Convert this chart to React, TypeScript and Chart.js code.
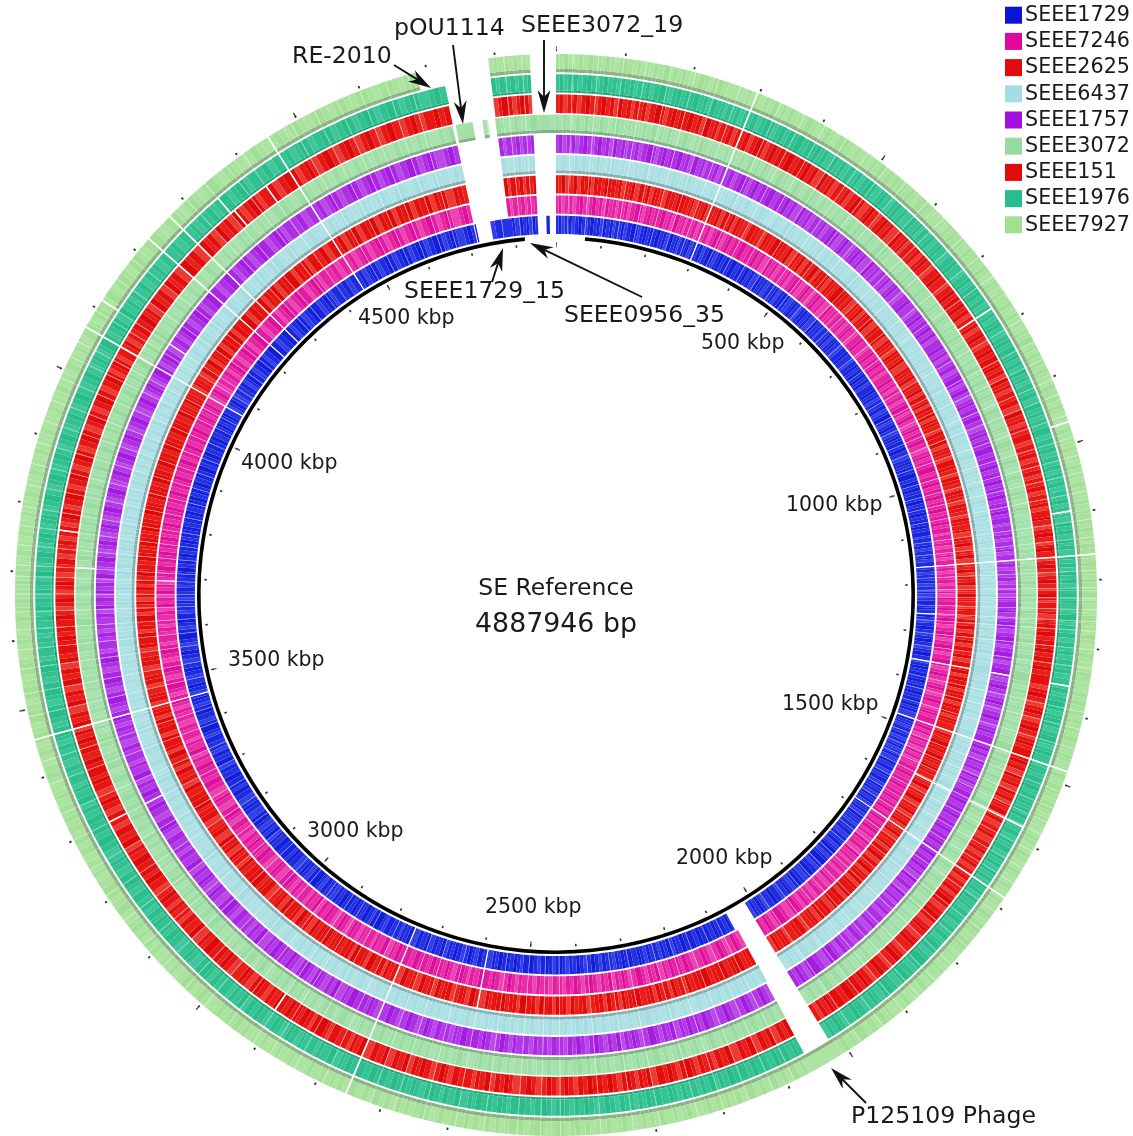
import React, { useEffect, useRef } from "react";
import { Chart, registerables } from "chart.js";

Chart.register(...registerables);

const TOTAL_KBP = 4887.946;

const GENOMES = ["SEEE1729", "SEEE7246", "SEEE2625", "SEEE6437", "SEEE1757", "SEEE3072", "SEEE151", "SEEE1976", "SEEE7927"];
const LEGEND_COLORS = ["#0b14d8", "#e0089a", "#e20a0a", "#a6dce6", "#a30fe0", "#96dca0", "#e20a0a", "#27bd8c", "#a2e090"];

// regions of the reference covered by each genome, kbp
const BLOCKS_SEEE1729 = [[0, 2016], [2062, 4717], [4719, 4722], [4752, 4850], [4868, 4875]];
const BLOCKS_SEEE7246 = [[0, 2016], [2057, 4718], [4790, 4850]];
const BLOCKS_SEEE2625 = [[0, 2016], [2057, 4719], [4790, 4850]];
const BLOCKS_SEEE6437 = [[0, 2016], [2055, 4720], [4790, 4850]];
const BLOCKS_SEEE1757 = [[0, 2016], [2058, 4720], [4790, 4850]];
const BLOCKS_SEEE3072 = [[0, 2016], [2057, 4719], [4724, 4752], [4768, 4777], [4789, 4887.946]];
const BLOCKS_SEEE151 = [[0, 2016], [2058, 4720], [4790, 4850]];
const BLOCKS_SEEE1976 = [[0, 2016], [2058, 4721], [4790, 4850]];
const BLOCKS_SEEE7927 = [[0, 4684], [4790, 4850]];
const BACKBONE_LENGTHS = [63, 4757, 67.946];

// strong unaligned lines, kbp
const LINES_ALL = [296, 1162, 1480, 1683, 2753, 3454, 4068, 4224, 4268, 4450];
const LINES_SEEE1729 = [1358, 2590, 1260];
const LINES_SEEE7246 = [1358, 2590, 3693];
const LINES_SEEE2625 = [1358, 1580, 2590];
const LINES_SEEE6437 = [1580];
const LINES_SEEE1757 = [1358, 3299, 4113];
const LINES_SEEE3072 = [1580, 3709];
const LINES_SEEE151 = [768, 1580, 3299, 3766, 4345, 4407, 2906];
const LINES_SEEE1976 = [768, 1095, 1358, 1580, 4338];
const LINES_SEEE7927 = [967, 4113];

// faint lines shared by the rings, kbp
const FAINT_LINES = [24, 61, 98, 131, 167, 203, 238, 271, 333, 372, 405, 441, 478, 512, 547, 589, 622, 661, 697, 731, 806, 842, 871, 903, 926, 958, 991, 1018, 1043, 1071, 1112, 1138, 1186, 1211, 1226, 1243, 1260, 1274, 1301, 1328, 1392, 1417, 1446, 1511, 1537, 1559, 1578, 1606, 1634, 1659, 1708, 1741, 1772, 1806, 1839, 1871, 1902, 1938, 1977, 2088, 2121, 2159, 2198, 2236, 2292, 2331, 2378, 2437, 2466, 2500, 2548, 2590, 2637, 2681, 2716, 2791, 2836, 2877, 2906, 2951, 2994, 3032, 3077, 3118, 3163, 3207, 3251, 3299, 3341, 3387, 3421, 3489, 3522, 3558, 3586, 3615, 3641, 3667, 3693, 3709, 3738, 3766, 3794, 3826, 3857, 3889, 3921, 3953, 3987, 4021, 4045, 4096, 4113, 4151, 4187, 4303, 4338, 4378, 4407, 4489, 4527, 4563, 4599, 4638, 4671, 4775, 4812, 4838];

// where the shade of a ring changes, kbp
const SHADE_CUTS = [11, 33, 47, 72, 86, 113, 124, 149, 178, 191, 219, 254, 263, 284, 312, 325, 351, 364, 389, 418, 431, 456, 469, 497, 528, 539, 566, 578, 604, 613, 641, 652, 679, 712, 724, 749, 781, 793, 821, 833, 858, 884, 895, 917, 941, 952, 976, 1004, 1011, 1031, 1057, 1064, 1083, 1103, 1124, 1147, 1153, 1174, 1198, 1219, 1234, 1252, 1268, 1287, 1313, 1341, 1349, 1371, 1384, 1405, 1431, 1457, 1468, 1493, 1503, 1524, 1548, 1569, 1591, 1618, 1646, 1671, 1695, 1722, 1733, 1756, 1787, 1798, 1821, 1853, 1862, 1886, 1917, 1929, 1956, 1989, 2003, 2071, 2103, 2112, 2139, 2177, 2186, 2214, 2227, 2258, 2271, 2306, 2318, 2347, 2362, 2394, 2409, 2424, 2451, 2483, 2491, 2519, 2533, 2566, 2578, 2609, 2622, 2654, 2667, 2698, 2733, 2771, 2782, 2813, 2824, 2857, 2866, 2891, 2922, 2936, 2968, 2981, 3011, 3024, 3053, 3066, 3097, 3106, 3139, 3148, 3184, 3193, 3229, 3238, 3272, 3283, 3318, 3327, 3362, 3374, 3402, 3436, 3443, 3471, 3478, 3506, 3513, 3541, 3573, 3601, 3627, 3654, 3681, 3702, 3723, 3752, 3781, 3809, 3818, 3841, 3873, 3904, 3913, 3938, 3969, 4004, 4013, 4033, 4057, 4082, 4104, 4131, 4143, 4169, 4203, 4213, 4246, 4257, 4286, 4321, 4361, 4392, 4428, 4467, 4476, 4508, 4519, 4546, 4581, 4617, 4627, 4656, 4702, 4761, 4802, 4826, 4845, 4878];
const SHADE_CUTS_FINE = [5, 18, 27, 40, 54, 66, 79, 92, 105, 119, 137, 143, 158, 172, 185, 197, 211, 226, 232, 247, 259, 277, 290, 304, 318, 339, 345, 358, 379, 397, 411, 424, 448, 462, 485, 491, 505, 519, 533, 553, 560, 572, 596, 609, 629, 635, 647, 668, 685, 703, 718, 737, 743, 756, 762, 775, 787, 799, 813, 827, 848, 853, 865, 878, 889, 909, 934, 946, 965, 983, 997, 1024, 1037, 1050, 1077, 1089, 1099, 1118, 1130, 1143, 1168, 1180, 1192, 1204, 1215, 1230, 1248, 1263, 1280, 1294, 1307, 1320, 1335, 1364, 1377, 1399, 1411, 1424, 1438, 1451, 1462, 1487, 1497, 1517, 1530, 1543, 1554, 1563, 1585, 1599, 1612, 1627, 1640, 1652, 1665, 1677, 1689, 1701, 1715, 1727, 1748, 1764, 1779, 1793, 1814, 1827, 1846, 1877, 1894, 1909, 1923, 1945, 1964, 1983, 1996, 2009, 2065, 2079, 2096, 2131, 2147, 2168, 2192, 2207, 2221, 2244, 2251, 2265, 2283, 2299, 2312, 2325, 2339, 2354, 2370, 2386, 2401, 2416, 2431, 2444, 2459, 2476, 2513, 2526, 2541, 2557, 2572, 2599, 2617, 2630, 2645, 2661, 2674, 2689, 2706, 2723, 2742, 2763, 2777, 2801, 2819, 2845, 2850, 2872, 2884, 2898, 2913, 2929, 2945, 2959, 2975, 3003, 3018, 3042, 3060, 3086, 3112, 3127, 3133, 3155, 3172, 3199, 3218, 3244, 3262, 3291, 3309, 3334, 3351, 3368, 3394, 3413, 3429, 3449, 3463, 3497, 3532, 3549, 3566, 3594, 3608, 3634, 3648, 3661, 3674, 3687, 3714, 3731, 3745, 3759, 3774, 3787, 3802, 3834, 3850, 3865, 3881, 3896, 3929, 3945, 3961, 3978, 3996, 4027, 4039, 4051, 4076, 4089, 4122, 4137, 4161, 4178, 4196, 4238, 4279, 4294, 4312, 4329, 4353, 4369, 4385, 4418, 4438, 4459, 4483, 4499, 4537, 4555, 4573, 4590, 4608, 4647, 4664, 4678, 4694, 4711, 4797, 4819, 4831, 4858];

// positions of the scale ticks, kbp
const MINOR_TICKS = [100, 200, 300, 400, 600, 700, 800, 900, 1100, 1200, 1300, 1400, 1600, 1700, 1800, 1900, 2100, 2200, 2300, 2400, 2600, 2700, 2800, 2900, 3100, 3200, 3300, 3400, 3600, 3700, 3800, 3900, 4100, 4200, 4300, 4400, 4600, 4700, 4800];
const MAJOR_TICKS = [0, 500, 1000, 1500, 2000, 2500, 3000, 3500, 4000, 4500];

const SCALE_LABELS = ["500 kbp", "1000 kbp", "1500 kbp", "2000 kbp", "2500 kbp", "3000 kbp", "3500 kbp", "4000 kbp", "4500 kbp"];
const SCALE_LABEL_X = [701, 786, 782, 676, 485, 307, 228, 241, 358];
const SCALE_LABEL_Y = [344, 506, 705, 859, 908, 832, 661, 464, 319];

const CALLOUTS = ["RE-2010", "pOU1114", "SEEE3072_19", "SEEE1729_15", "SEEE0956_35", "P125109 Phage"];
const CALLOUT_X = [292, 394, 521, 404, 564, 851];
const CALLOUT_Y = [57, 29, 26, 292, 316, 1117];
const CALLOUT_SIZE = [23.6, 23.6, 23.7, 23.5, 23.5, 23.6];
const ARROW_FROM = [[394, 65], [453, 45], [544, 40], [492, 282], [642, 297], [866, 1103]];
const ARROW_TO = [[431, 88], [463, 124], [544, 113], [503, 248], [530, 243], [831, 1068]];

type Interval = number[];

function buildRing(blocks: Interval[], strong: number[], tones: string[]) {
  const marks: [number, number, boolean][] = [];
  FAINT_LINES.forEach((k) => marks.push([k, k + 1.1, false]));
  [...LINES_ALL, ...strong].forEach((k) => marks.push([k, k + 2.4, true]));
  const edges = new Set<number>([0, TOTAL_KBP]);
  blocks.forEach(([a, b]) => { edges.add(a); edges.add(b); });
  SHADE_CUTS.forEach((k) => edges.add(k));
  SHADE_CUTS_FINE.forEach((k) => edges.add(k));
  marks.forEach(([a, b]) => { edges.add(a); edges.add(b); });
  const sorted = [...edges].sort((p, q) => p - q);
  const data: number[] = [];
  const colors: string[] = [];
  const cycle = Math.max(1, tones.length - 1);
  let shade = 0;
  for (let i = 0; i < sorted.length - 1; i++) {
    const a = sorted[i];
    const b = sorted[i + 1];
    const m = (a + b) / 2;
    data.push(b - a);
    const inside = blocks.some(([s, e]) => m >= s && m < e);
    if (!inside) { colors.push("rgba(0,0,0,0)"); continue; }
    const base = tones[shade++ % cycle];
    const hit = marks.filter(([s, e]) => m >= s && m < e);
    if (hit.some((h) => h[2])) colors.push("#ffffff");
    else if (hit.length) colors.push(tones[tones.length - 1]);
    else colors.push(base);
  }
  return { data, colors };
}

function ticksRing(list: number[], half: number) {
  const data: number[] = [];
  const colors: string[] = [];
  let at = 0;
  [...list].sort((p, q) => p - q).forEach((k) => {
    if (k - half > at) { data.push(k - half - at); colors.push("rgba(0,0,0,0)"); at = k - half; }
    data.push(k + half - at); colors.push("#333333"); at = k + half;
  });
  data.push(TOTAL_KBP - at); colors.push("rgba(0,0,0,0)");
  return { data, colors };
}

const ringDs = (r: { data: number[]; colors: string[] }, weight: number) => ({ data: r.data, backgroundColor: r.colors, borderWidth: 0, weight });
const spacerDs = (weight: number) => ({ data: [1], backgroundColor: ["rgba(0,0,0,0)"], borderWidth: 0, weight });

const BAND = 18.3;
const SEP = 1.9;

const TONES_7927 = ["#a9e29d", "#aee4a2", "#a5e098", "#abe3a0", "#a2de95", "#bfeab4"];
const TONES_1976 = ["#36c494", "#2cbf8d", "#3fc79a", "#31c190", "#28bc89", "#68d4b0"];
const TONES_151 = ["#e81f1b", "#e2100e", "#ec3a34", "#e61714", "#dc0a0a", "#f3736c"];
const TONES_3072 = ["#a2e0a8", "#a8e2ae", "#9edea4", "#a5e1ab", "#9adca0", "#bdeac1"];
const TONES_1757 = ["#b23ae6", "#aa26e3", "#b94ae8", "#ad30e4", "#a41cdf", "#cd80f0"];
const TONES_6437 = ["#ace0e4", "#b0e2e5", "#a8dee2", "#aee1e4", "#a6dde1", "#c6ebee"];
const TONES_2625 = ["#e61512", "#e81f1b", "#dc0a0a", "#ec3a34", "#e2100e", "#f3736c"];
const TONES_7246 = ["#e82fa8", "#e31aa2", "#ec44b2", "#e524a4", "#dd109c", "#f288cc"];
const TONES_1729 = ["#2432e2", "#1824de", "#3440e6", "#1e2ce0", "#121ed8", "#6f79ee"];

export default function App() {
  const ref = useRef<HTMLCanvasElement>(null);
  useEffect(() => {
    if (!ref.current) return;
    const ds: any[] = [];
    // outer scale
    ds.push(ringDs(ticksRing(MAJOR_TICKS, 0.9), 3));
    ds.push(ringDs(ticksRing([...MAJOR_TICKS, ...MINOR_TICKS], 1.3), 2.5));
    ds.push(spacerDs(2.5));
    ds.push(ringDs(buildRing(BLOCKS_SEEE7927, LINES_SEEE7927, TONES_7927), BAND - 3.5));
    ds.push(ringDs(buildRing(BLOCKS_SEEE7927, LINES_SEEE7927, ["#8cb183"]), 3.5));
    ds.push(spacerDs(SEP));
    ds.push(ringDs(buildRing(BLOCKS_SEEE1976, LINES_SEEE1976, TONES_1976), BAND - 2));
    ds.push(ringDs(buildRing(BLOCKS_SEEE1976, LINES_SEEE1976, ["#1f9f76"]), 2));
    ds.push(spacerDs(SEP));
    ds.push(ringDs(buildRing(BLOCKS_SEEE151, LINES_SEEE151, TONES_151), BAND + 0.4));
    ds.push(spacerDs(SEP - 0.4));
    ds.push(ringDs(buildRing(BLOCKS_SEEE3072, LINES_SEEE3072, TONES_3072), BAND - 3));
    ds.push(ringDs(buildRing(BLOCKS_SEEE3072, LINES_SEEE3072, ["#84ae88"]), 3));
    ds.push(spacerDs(SEP));
    ds.push(ringDs(buildRing(BLOCKS_SEEE1757, LINES_SEEE1757, TONES_1757), BAND));
    ds.push(spacerDs(SEP));
    ds.push(ringDs(buildRing(BLOCKS_SEEE6437, LINES_SEEE6437, TONES_6437), BAND - 3));
    ds.push(ringDs(buildRing(BLOCKS_SEEE6437, LINES_SEEE6437, ["#86aeb0"]), 3));
    ds.push(spacerDs(SEP));
    ds.push(ringDs(buildRing(BLOCKS_SEEE2625, LINES_SEEE2625, TONES_2625), BAND));
    ds.push(spacerDs(SEP));
    ds.push(ringDs(buildRing(BLOCKS_SEEE7246, LINES_SEEE7246, TONES_7246), BAND));
    ds.push(spacerDs(SEP));
    ds.push(ringDs(buildRing(BLOCKS_SEEE1729, LINES_SEEE1729, TONES_1729), BAND));
    ds.push(spacerDs(2.1));
    // backbone
    ds.push(ringDs({ data: BACKBONE_LENGTHS, colors: ["rgba(0,0,0,0)", "#000000", "rgba(0,0,0,0)"] }, 3.6));
    ds.push(spacerDs(2.5));
    // inner scale
    ds.push(ringDs(ticksRing(MAJOR_TICKS, 1.3), 1));
    ds.push(ringDs(ticksRing([...MAJOR_TICKS, ...MINOR_TICKS], 1.8), 2.5));
    ds.push(ringDs(ticksRing(MAJOR_TICKS, 1.3), 2));

    const weightSum = ds.reduce((s, d) => s + d.weight, 0);

    const textPlugin = {
      id: "genomeText",
      afterDraw(chart: any) {
        const c = chart.ctx as CanvasRenderingContext2D;
        c.save();
        c.fillStyle = "#1a1a1a";
        c.textBaseline = "middle";
        c.textAlign = "left";
        c.font = '20.5px "DejaVu Sans"';
        SCALE_LABELS.forEach((t, i) => c.fillText(t, SCALE_LABEL_X[i], SCALE_LABEL_Y[i]));
        CALLOUTS.forEach((t, i) => {
          c.font = `${CALLOUT_SIZE[i]}px "DejaVu Sans"`;
          c.fillText(t, CALLOUT_X[i], CALLOUT_Y[i]);
        });
        c.textAlign = "center";
        c.font = '23.5px "DejaVu Sans"';
        c.fillText("SE Reference", 556, 589);
        c.font = '26.8px "DejaVu Sans"';
        c.fillText("4887946 bp", 556, 625);
        // legend
        c.textAlign = "left";
        c.font = '20.7px "DejaVu Sans"';
        GENOMES.forEach((g, i) => {
          const y = 15.2 + i * 26.2;
          c.fillStyle = LEGEND_COLORS[i];
          c.fillRect(1005, y - 8.5, 17, 17);
          c.fillStyle = "#1a1a1a";
          c.fillText(g, 1025, y + 0.5);
        });
        // arrows
        c.strokeStyle = "#111111";
        c.fillStyle = "#111111";
        c.lineWidth = 1.9;
        ARROW_FROM.forEach((from, i) => {
          const to = ARROW_TO[i];
          const ang = Math.atan2(to[1] - from[1], to[0] - from[0]);
          const ux = Math.cos(ang), uy = Math.sin(ang);
          c.beginPath();
          c.moveTo(from[0], from[1]);
          c.lineTo(to[0] - ux * 12, to[1] - uy * 12);
          c.stroke();
          c.beginPath();
          c.moveTo(to[0], to[1]);
          c.lineTo(to[0] - ux * 23 - uy * 6.5, to[1] - uy * 23 + ux * 6.5);
          c.lineTo(to[0] - ux * 16, to[1] - uy * 16);
          c.lineTo(to[0] - ux * 23 + uy * 6.5, to[1] - uy * 23 - ux * 6.5);
          c.closePath();
          c.fill();
        });
        c.restore();
      },
    };

    const chart = new Chart(ref.current, {
      type: "doughnut",
      data: { labels: [], datasets: ds },
      options: {
        responsive: false,
        maintainAspectRatio: false,
        animation: false,
        events: [],
        cutout: 549 - weightSum,
        layout: { padding: { left: 7, right: 28, top: 46, bottom: 6 } },
        plugins: { legend: { display: false }, tooltip: { enabled: false } },
      } as any,
      plugins: [textPlugin as any],
    });
    return () => chart.destroy();
  }, []);
  return (
    <div style={{ position: "absolute", left: 0, top: 0, width: 1133, height: 1136, overflow: "hidden", background: "#ffffff" }}>
      <canvas ref={ref} width={1133} height={1150} style={{ display: "block" }} />
    </div>
  );
}
